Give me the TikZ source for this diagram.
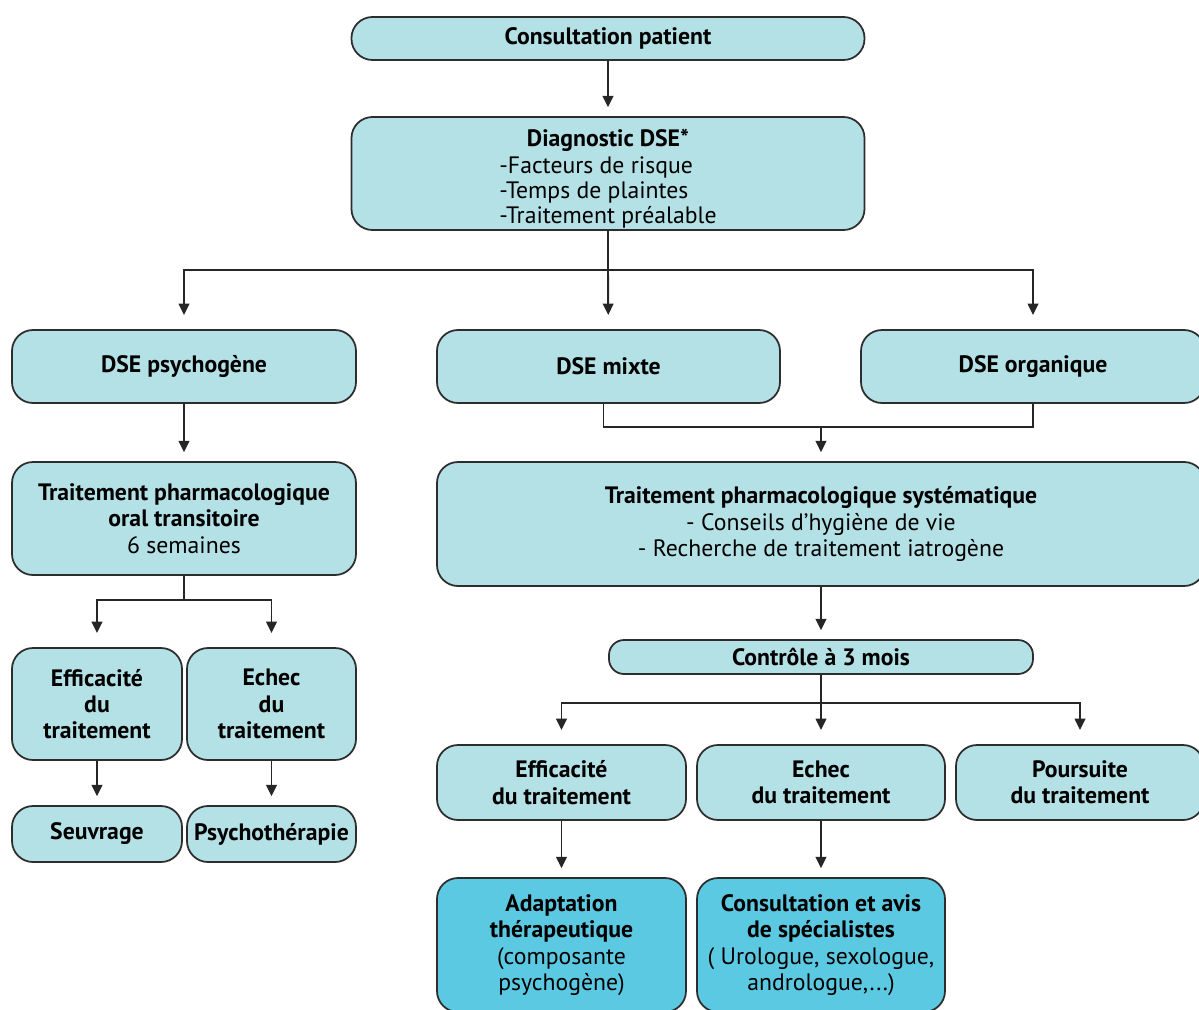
\documentclass[tikz,border=0pt]{standalone}
\usepackage{fontspec}
\setmainfont{PT Sans}
\usepackage{tikz}
\usetikzlibrary{arrows.meta, positioning, calc}
\definecolor{paleblue}{RGB}{180, 225, 230}
\definecolor{deepblue}{RGB}{92, 201, 226}
\definecolor{edgegray}{RGB}{45, 45, 45}

\begin{document}
\begin{tikzpicture}[
    box/.style={draw=edgegray, line width=1pt, fill=paleblue, rounded corners=0.42cm,
        align=center, inner sep=2pt, font=\fontsize{13.5}{15}\selectfont},
    darkbox/.style={box, fill=deepblue},
    line/.style={line width=1.1pt, black!85},
    arr/.style={line, -{Triangle[width=6pt, length=6.5pt]}, shorten >=5pt},
    branch/.style={arr, shorten >=8pt}
]
    \useasboundingbox (0, 0) rectangle (23.98, -20.2);

    % Top of the chart
    \node[box, minimum width=10.26cm, minimum height=0.86cm] (consult) at (12.16, -0.77) {\textbf{Consultation patient}};
    \node[box, minimum width=10.26cm, minimum height=2.26cm] (diag) at (12.16, -3.47)
        {\raisebox{-3.5pt}[\height][\depth]{\begin{tabular}{@{}c@{}}\textbf{Diagnostic DSE*}\\[0.5pt]
         \begin{tabular}[t]{@{}l@{}}-Facteurs de risque\\[-1pt]-Temps de plaintes\\[-1pt]-Traitement préalable\end{tabular}\end{tabular}}};

    % Three forms
    \node[box, minimum width=6.88cm, minimum height=1.46cm] (psycho) at (3.68, -7.33) {\textbf{DSE psychogène}};
    \node[box, minimum width=6.86cm, minimum height=1.46cm] (mixte) at (12.17, -7.33) {\textbf{DSE mixte}};
    \node[box, minimum width=6.88cm, minimum height=1.46cm] (organ) at (20.66, -7.33) {\textbf{DSE organique}};

    % Left branch
    \node[box, minimum width=6.88cm, minimum height=2.26cm] (oral) at (3.68, -10.37)
        {\textbf{Traitement pharmacologique}\\\textbf{oral transitoire}\\6 semaines};
    \node[box, minimum width=3.40cm, minimum height=2.24cm] (effg) at (1.94, -14.08) {\textbf{Efficacité}\\\textbf{du}\\\textbf{traitement}};
    \node[box, minimum width=3.38cm, minimum height=2.24cm] (echg) at (5.43, -14.08) {\textbf{Echec}\\\textbf{du}\\\textbf{traitement}};
    \node[box, minimum width=3.40cm, minimum height=1.12cm] (seuv) at (1.94, -16.68) {\textbf{Seuvrage}};
    \node[box, minimum width=3.38cm, minimum height=1.12cm] (psyth) at (5.43, -16.68) {\textbf{Psychothérapie}};

    % Right branch
    \node[box, minimum width=15.36cm, minimum height=2.48cm] (syst) at (16.42, -10.48)
        {\textbf{Traitement pharmacologique systématique}\\- Conseils d’hygiène de vie\\- Recherche de traitement iatrogène};
    \node[box, minimum width=8.48cm, minimum height=0.68cm, rounded corners=0.3cm] (controle) at (16.42, -13.14) {\textbf{Contrôle à 3 mois}};
    \node[box, minimum width=4.98cm, minimum height=1.50cm] (effd) at (11.23, -15.65) {\textbf{Efficacité}\\\textbf{du traitement}};
    \node[box, minimum width=4.96cm, minimum height=1.50cm] (echd) at (16.42, -15.65) {\textbf{Echec}\\\textbf{du traitement}};
    \node[box, minimum width=4.96cm, minimum height=1.50cm] (pours) at (21.60, -15.65) {\textbf{Poursuite}\\\textbf{du traitement}};
    \node[darkbox, minimum width=4.98cm, minimum height=2.68cm] (adapt) at (11.23, -18.9)
        {\textbf{Adaptation}\\\textbf{thérapeutique}\\(composante\\psychogène)};
    \node[darkbox, minimum width=4.96cm, minimum height=2.68cm] (avis) at (16.42, -18.9)
        {\textbf{Consultation et avis}\\\textbf{de spécialistes}\\( Urologue, sexologue,\\andrologue,...)};

    % Split points
    \coordinate (split1) at (12.16, -5.4);
    \coordinate (join1) at (16.42, -8.54);
    \coordinate (split2) at (3.68, -12.0);
    \coordinate (split3) at (16.42, -14.06);

    % Connectors
    \draw[arr] (consult) -- (diag);
    \draw[line] (diag) -- (split1);
    \draw[branch] (split1) -| (psycho);
    \draw[branch] (split1) -- (mixte);
    \draw[branch] (split1) -| (organ);

    \draw[arr] (psycho) -- (oral);
    \draw[line] (oral) -- (split2);
    \draw[branch] (split2) -| (effg);
    \draw[branch] (split2) -| (echg);
    \draw[arr] (effg) -- (seuv);
    \draw[arr] (echg) -- (psyth);

    \draw[line] ([xshift=-0.1cm]mixte.south) |- (join1) -| (organ.south);
    \draw[arr] (join1) -- (syst);
    \draw[arr] (syst) -- (controle);
    \draw[line] (controle) -- (split3);
    \draw[branch] (split3) -| (effd);
    \draw[branch] (split3) -- (echd);
    \draw[branch] (split3) -| (pours);
    \draw[arr] (effd) -- (adapt);
    \draw[arr] (echd) -- (avis);
\end{tikzpicture}
\end{document}
